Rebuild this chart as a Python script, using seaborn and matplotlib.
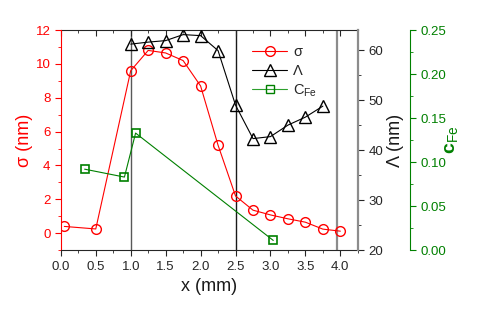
import matplotlib
matplotlib.use("Agg")
import matplotlib.pyplot as plt
from matplotlib.lines import Line2D
from matplotlib.ticker import MultipleLocator
import seaborn as sns

# sigma (left axis)
x_sigma = [0.05, 0.5, 1.0, 1.25, 1.5, 1.75, 2.0, 2.25, 2.5, 2.75, 3.0, 3.25, 3.5, 3.75, 4.0]
sigma = [0.4, 0.25, 9.6, 10.8, 10.65, 10.2, 8.7, 5.2, 2.2, 1.36, 1.08, 0.85, 0.65, 0.24, 0.12]

# Lambda (right axis)
x_lam = [1.0, 1.25, 1.5, 1.75, 2.0, 2.25, 2.5, 2.75, 3.0, 3.25, 3.5, 3.75]
lam = [61.2, 61.6, 61.9, 63.1, 62.9, 59.9, 49.0, 42.3, 42.7, 45.0, 46.6, 48.8]

# c_Fe (outer right axis)
x_fe = [0.34, 0.91, 1.07, 3.04]
c_fe = [0.092, 0.083, 0.133, 0.011]

vlines = [1.0, 2.5, 3.95]

sns.set_style("ticks")
plt.rcParams['font.family'] = ['Liberation Sans', 'DejaVu Sans']
plt.rcParams['mathtext.fontset'] = 'custom'
plt.rcParams['mathtext.rm'] = 'Liberation Sans'
plt.rcParams['mathtext.bf'] = 'Liberation Sans:bold'
plt.rcParams['xtick.labelsize'] = 9.5
plt.rcParams['ytick.labelsize'] = 9.5

fig = plt.figure(figsize=(4.79, 3.17), dpi=100)
ax = fig.add_axes([0.127, 0.211, 0.620, 0.694])
ax2 = ax.twinx()
ax3 = ax.twinx()
ax3.spines['right'].set_position(('axes', 1.175))

ax.axvline(vlines[0], color='0.35', lw=1, zorder=0)
ax.axvline(vlines[1], color='0.1', lw=1, zorder=0)
ax.axvline(vlines[2], color='0.55', lw=1.6, zorder=0)

red = '#ff0000'
green = '#008000'
ms = 7

sns.lineplot(x=x_sigma, y=sigma, ax=ax, color=red, lw=0.8, marker='o', markersize=ms,
             markerfacecolor='none', markeredgecolor=red, markeredgewidth=1.0)
sns.lineplot(x=x_lam, y=lam, ax=ax2, color='black', lw=0.8, marker='^', markersize=ms + 1,
             markerfacecolor='none', markeredgecolor='black', markeredgewidth=1.0)
sns.lineplot(x=x_fe, y=c_fe, ax=ax3, color=green, lw=0.8, marker='s', markersize=ms - 1,
             markerfacecolor='none', markeredgecolor=green, markeredgewidth=1.2)

ax.set_xlim(0, 4.25)
ax.set_ylim(-1, 12)
ax2.set_ylim(20, 64)
ax3.set_ylim(0, 0.25)

ax.xaxis.set_major_locator(MultipleLocator(0.5))
ax.xaxis.set_minor_locator(MultipleLocator(0.25))
ax.yaxis.set_major_locator(MultipleLocator(2))
ax.yaxis.set_minor_locator(MultipleLocator(1))
ax2.yaxis.set_major_locator(MultipleLocator(10))
ax2.yaxis.set_minor_locator(MultipleLocator(5))
ax3.yaxis.set_major_locator(MultipleLocator(0.05))
ax3.yaxis.set_minor_locator(MultipleLocator(0.025))
ax.xaxis.set_major_formatter(plt.FormatStrFormatter('%.1f'))
ax3.yaxis.set_major_formatter(plt.FormatStrFormatter('%.2f'))

ax.tick_params(axis='x', which='both', direction='out', colors='0.15')
ax.tick_params(axis='x', which='major', length=4)
ax.tick_params(axis='x', which='minor', length=2.5)
ax.tick_params(axis='y', which='both', colors=red)
ax.tick_params(axis='y', which='major', length=4)
ax.tick_params(axis='y', which='minor', length=2.5)
ax2.tick_params(axis='y', which='major', length=4, colors='0.15')
ax2.tick_params(axis='y', which='minor', length=2.5, colors='0.15')
ax3.tick_params(axis='y', which='major', length=4, colors=green)
ax3.tick_params(axis='y', which='minor', length=2.5, colors=green)

# inward ticks along the top edge
top = ax.secondary_xaxis('top')
top.xaxis.set_major_locator(MultipleLocator(0.5))
top.xaxis.set_minor_locator(MultipleLocator(0.25))
top.tick_params(which='both', direction='in', labeltop=False, colors='0.15')
top.tick_params(which='major', length=4)
top.tick_params(which='minor', length=2.5)
top.spines['top'].set_color('0.15')

for a in (ax, ax2, ax3):
    for s in a.spines.values():
        s.set_visible(False)
ax.spines['bottom'].set_visible(True)
ax.spines['left'].set_visible(True)
ax.spines['left'].set_color(red)
ax.spines['bottom'].set_color('0.15')
ax2.spines['right'].set_visible(True)
ax2.spines['right'].set_color('0.55')
ax2.spines['right'].set_linewidth(1.6)
ax3.spines['right'].set_visible(True)
ax3.spines['right'].set_color(green)

ax.set_xlabel('x (mm)', fontsize=13, color='0.1')
ax.set_ylabel('σ (nm)', fontsize=13, color=red, labelpad=2)
ax2.set_ylabel('Λ (nm)', fontsize=13, color='0.1', labelpad=3)
ax3.set_ylabel(r'$\mathbf{c}_{\mathrm{Fe}}$', fontsize=14, color=green, labelpad=-2)

handles = [
    Line2D([], [], color=red, lw=0.8, marker='o', markersize=ms, markerfacecolor='none', markeredgecolor=red),
    Line2D([], [], color='black', lw=0.8, marker='^', markersize=ms + 1, markerfacecolor='none', markeredgecolor='black'),
    Line2D([], [], color='#2ca02c', lw=0.8, marker='s', markersize=ms - 1, markerfacecolor='none', markeredgecolor=green),
]
labels = ['σ', 'Λ', r'C$_{\mathrm{Fe}}$']
leg = ax3.legend(handles, labels, loc='upper left', bbox_to_anchor=(0.6, 0.99), frameon=False,
                 fontsize=10.5, handlelength=2.4, handletextpad=0.4, labelspacing=0.3)

fig.savefig('out.png', dpi=100)
